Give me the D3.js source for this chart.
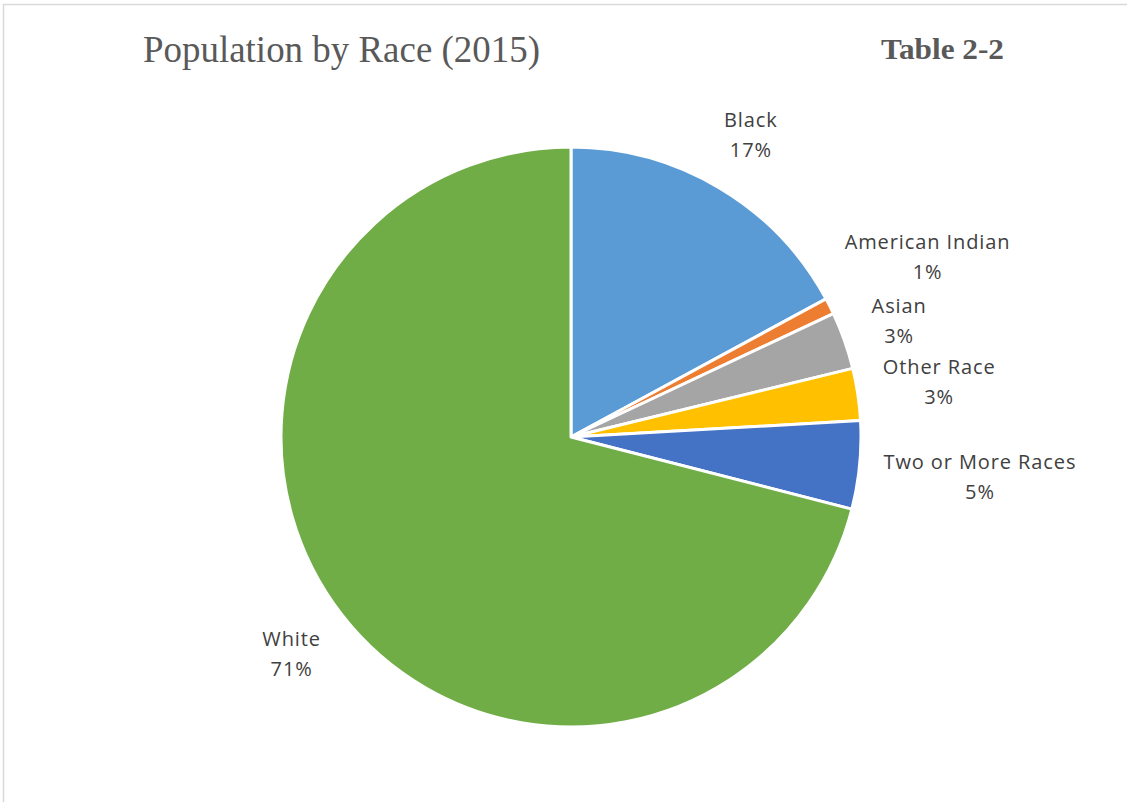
<!DOCTYPE html>
<html><head><meta charset="utf-8">
<script src="https://cdn.jsdelivr.net/npm/d3@7"></script>
<style>body{margin:0;background:#fff;} svg{display:block;}</style>
</head><body>
<svg id="chart" width="1127" height="802"></svg>
<script>
const categories = ["Black", "American Indian", "Asian", "Other Race", "Two or More Races", "White"];
const values = [17.1, 0.9, 3.2, 2.9, 4.9, 71.0];
const percentLabels = ["17%", "1%", "3%", "3%", "5%", "71%"];
const colors = ["#5B9BD5", "#ED7D31", "#A5A5A5", "#FFC000", "#4472C4", "#70AD47"];
const title = "Population by Race (2015)";
const tableLabel = "Table 2-2";

const svg = d3.select("#chart");
const W = 1127, H = 802;

svg.append("rect").attr("x", 3.5).attr("y", 4.5).attr("width", W + 10).attr("height", H + 10)
  .attr("fill", "none").attr("stroke", "#d9d9d9").attr("stroke-width", 1.5);

svg.append("text").attr("x", 143).attr("y", 62)
  .attr("font-family", "Liberation Serif, Times New Roman, serif").attr("font-size", 38)
  .attr("fill", "#595959").attr("textLength", 397).attr("lengthAdjust", "spacingAndGlyphs")
  .text(title);

svg.append("text").attr("x", 881).attr("y", 59)
  .attr("font-family", "Liberation Serif, Times New Roman, serif").attr("font-size", 30).attr("font-weight", "bold")
  .attr("fill", "#595959").attr("textLength", 123).attr("lengthAdjust", "spacingAndGlyphs")
  .text(tableLabel);

const cx = 571, cy = 437, r = 290;
const data = categories.map((c, i) => ({ cat: c, value: values[i], pct: percentLabels[i], color: colors[i] }));
const pie = d3.pie().value(d => d.value).sort(null);
const arc = d3.arc().innerRadius(0).outerRadius(r);
const arcs = pie(data);

const g = svg.append("g").attr("transform", `translate(${cx},${cy})`);
g.selectAll("path").data(arcs).enter().append("path")
  .attr("d", arc).attr("fill", d => d.data.color)
  .attr("stroke", "#fff").attr("stroke-width", 3).attr("stroke-linejoin", "round");

const gap = 22, lineH = 30, fs = 20;
arcs.forEach(a => {
  const lg = g.append("g");
  const t = lg.append("text").attr("text-anchor", "middle")
    .attr("font-family", "Open Sans, sans-serif").attr("font-size", fs).attr("fill", "#404040")
    .attr("letter-spacing", 0.9);
  t.append("tspan").attr("x", 0).attr("y", -lineH / 2 + 7).text(a.data.cat);
  t.append("tspan").attr("x", 0).attr("y", lineH / 2 + 7).text(a.data.pct);
  const bb = t.node().getBBox();
  const w = bb.width, h = 60;
  const ang = (a.startAngle + a.endAngle) / 2;
  const s = Math.sin(ang), c = Math.cos(ang);
  const d = r + gap + Math.abs(s) * w / 2 + Math.abs(c) * h / 2;
  lg.attr("transform", `translate(${d * s},${-d * c})`);
});
</script>
</body></html>
